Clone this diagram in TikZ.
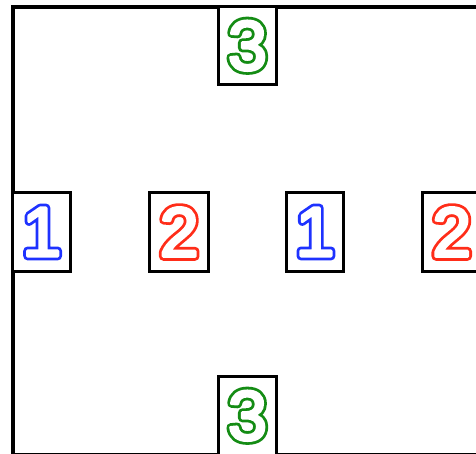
\documentclass[tikz,border=0pt]{standalone}
\usepackage{fontspec}
\newfontfamily\digitfont{Liberation Sans}
\definecolor{dblue}{RGB}{30,50,255}
\definecolor{dred}{RGB}{255,45,25}
\definecolor{dgreen}{RGB}{20,140,20}
% colored thick fill+stroke, then white narrower fill+stroke on top: a ring outline
\newcommand{\outlinedigit}[2]{{%
  \rlap{\color{#1}\special{pdf:literal direct 2 Tr 8.6 w 1 j}#2}%
  {\color{white}\special{pdf:literal direct 2 Tr 3 w 1 j}#2}%
  \special{pdf:literal direct 0 Tr 0 j}}}
\begin{document}
\begin{tikzpicture}[x=1pt,y=-1pt,
  cell/.style={draw=black,line width=3pt,fill=white,inner sep=0pt,
    font=\digitfont\fontsize{70}{70}\selectfont},
  framestyle/.style={draw=black,line width=4pt}]
\useasboundingbox (0,0) rectangle (476,454);
\clip (0,0) rectangle (476,454);
\coordinate (fa) at (13,7);
\coordinate (fb) at (482,455);
\draw[framestyle] (fa) rectangle (fb);
\node[cell,minimum width=58pt,minimum height=77.5pt] (t3) at (247.5,45.75) {\outlinedigit{dgreen}{3}};
\node[cell,minimum width=57.5pt,minimum height=79pt] (l1) at (41.7,232) {\outlinedigit{dblue}{1}};
\node[cell,minimum width=58.5pt,minimum height=79pt] (m2) at (179.2,232) {\outlinedigit{dred}{2}};
\node[cell,minimum width=57pt,minimum height=79pt] (m1) at (315,232) {\outlinedigit{dblue}{1}};
\node[cell,minimum width=58.5pt,minimum height=79pt] (r2) at (451.75,232) {\outlinedigit{dred}{2}};
\node[cell,minimum width=58pt,minimum height=78.5pt] (b3) at (247.5,415.75) {\outlinedigit{dgreen}{3}};
\end{tikzpicture}
\end{document}
